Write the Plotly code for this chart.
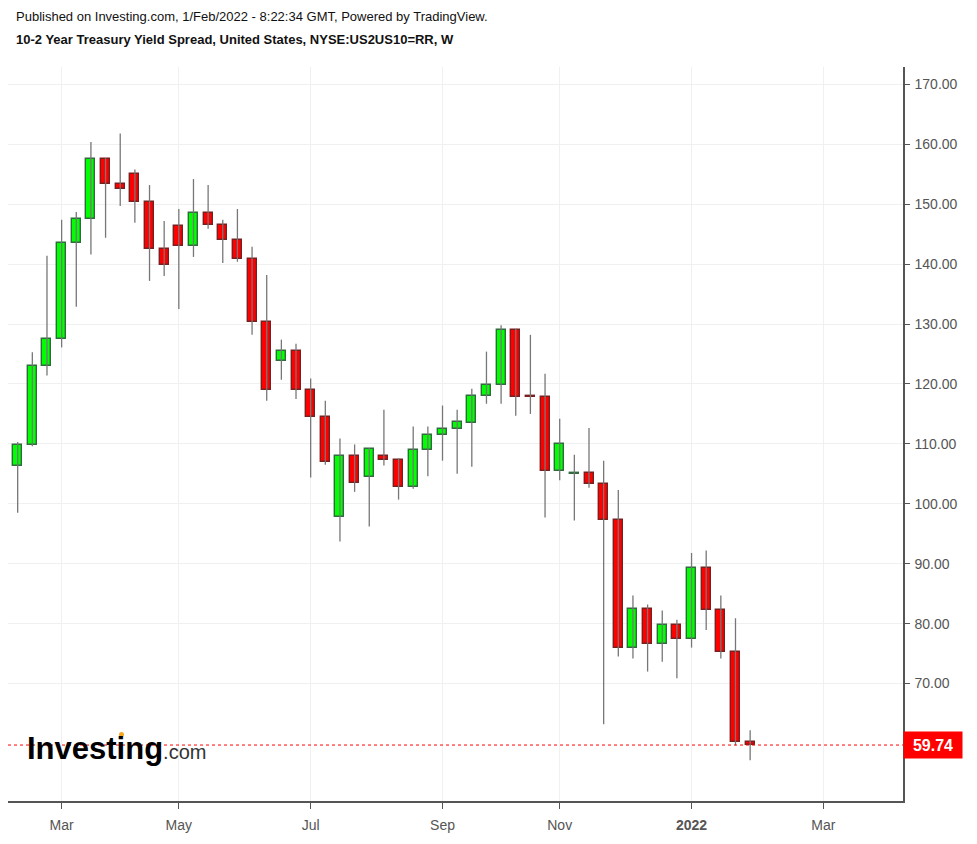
import plotly.graph_objects as go
import pandas as pd

# ---- data (weekly bars, week start dates) ----
dates = pd.date_range("2021-02-15", periods=51, freq="7D").strftime("%Y-%m-%d").tolist()
opens = [106.3, 109.8, 123.05, 127.5, 143.5, 147.5, 157.55, 153.3, 155.05, 150.3,
         142.55, 146.3, 143.0, 148.55, 146.55, 144.05, 140.8, 130.3, 123.8, 125.55,
         119.0, 114.55, 97.8, 108.05, 104.55, 108.05, 107.33, 102.8, 109.05, 111.55,
         112.5, 113.5, 118.0, 119.8, 129.05, 117.85, 117.8, 105.5, 104.9, 105.1,
         103.3, 97.3, 76.0, 82.5, 76.55, 79.85, 77.5, 89.3, 82.3, 75.3,
         60.28]
highs = [110.3, 125.3, 141.4, 147.4, 148.7, 160.4, 157.7, 161.8, 155.8, 153.2,
         147.2, 149.2, 154.2, 153.2, 147.4, 149.2, 142.9, 138.2, 127.4, 126.7,
         120.9, 117.2, 110.9, 109.9, 109.3, 115.7, 107.6, 112.9, 112.9, 116.4,
         115.7, 119.2, 125.4, 129.8, 129.2, 128.2, 121.7, 114.2, 108.2, 112.65,
         107.2, 102.3, 84.7, 83.2, 82.2, 80.65, 91.8, 92.2, 84.7, 80.9,
         62.2]
lows = [98.5, 109.6, 121.4, 126.1, 132.9, 141.6, 144.4, 149.7, 146.9, 137.2,
        138.0, 132.5, 141.2, 145.9, 140.2, 140.4, 128.2, 117.2, 120.7, 117.5,
        104.4, 106.5, 93.7, 102.0, 96.2, 106.4, 100.7, 102.5, 104.6, 107.2,
        105.0, 106.2, 116.7, 116.7, 114.7, 115.0, 97.7, 103.95, 97.2, 102.7,
        63.2, 74.5, 74.2, 72.0, 73.65, 70.9, 76.0, 78.95, 74.2, 59.7,
        57.2]
closes = [109.8, 123.05, 127.5, 143.55, 147.55, 157.55, 153.3, 152.5, 150.3, 142.5,
          139.8, 143.0, 148.55, 146.5, 144.05, 140.8, 130.3, 119.0, 125.55, 119.0,
          114.5, 107.05, 108.05, 103.5, 109.1, 107.3, 102.8, 109.05, 111.55, 112.55,
          113.6, 118.0, 119.8, 129.05, 117.8, 117.75, 105.5, 110.05, 105.0, 103.3,
          97.3, 76.0, 82.5, 76.55, 79.85, 77.5, 89.3, 82.2, 75.3, 60.3,
          59.74]

last_price = 59.74
x_tick_vals = ["2021-03-08", "2021-05-03", "2021-07-05", "2021-09-06", "2021-11-01", "2022-01-03", "2022-03-07"]
x_tick_text = ["Mar", "May", "Jul", "Sep", "Nov", "<b>2022</b>", "Mar"]
y_tick_vals = [70, 80, 90, 100, 110, 120, 130, 140, 150, 160, 170]

GREEN, GREEN_EDGE = "#00ff00", "#2f6b3c"
RED, RED_EDGE = "#ff0000", "#7a1f1f"
FONT = "Arial, 'Liberation Sans', sans-serif"

# page body has an 8px margin, so the figure is 8px smaller each way
W, H = 969, 836
L, R, T, B = 0, 74, 59, 43
PW, PH = W - L - R, H - T - B


def px(xp):   # page x pixel -> paper
    return (xp - 8 - L) / PW


def py(yp):   # page y pixel -> paper
    return (H - B - (yp - 8)) / PH


# wicks
wx, wy = [], []
for d, h, l in zip(dates, highs, lows):
    wx += [d, d, None]
    wy += [l, h, None]

up = [c >= o for o, c in zip(opens, closes)]
base = [min(o, c) for o, c in zip(opens, closes)]
height = [max(abs(c - o), 0.3) for o, c in zip(opens, closes)]

fig = go.Figure()
fig.add_trace(go.Scatter(x=wx, y=wy, mode="lines",
                         line=dict(color="#777777", width=1.3),
                         hoverinfo="skip", showlegend=False))
fig.add_trace(go.Bar(x=dates, y=height, base=base,
                     width=4.3 * 86400000,
                     marker=dict(color=[GREEN if u else RED for u in up],
                                 line=dict(color=[GREEN_EDGE if u else RED_EDGE for u in up], width=1.4)),
                     showlegend=False))

# last price dotted line
fig.add_shape(type="line", xref="paper", x0=0, x1=1, yref="y", y0=last_price, y1=last_price,
              line=dict(color="#ff0000", width=1, dash="dot"))

fig.update_layout(
    width=W, height=H,
    margin=dict(l=L, r=R, t=T, b=B),
    paper_bgcolor="white", plot_bgcolor="white",
    font=dict(family=FONT, color="#555555", size=13),
    bargap=0,
    xaxis=dict(type="date",
               range=["2021-02-10 09:00", "2022-04-14 01:00"],
               tickvals=x_tick_vals, ticktext=x_tick_text,
               showgrid=True, gridcolor="#f0f0f0", gridwidth=1,
               showline=True, linecolor="#555555", linewidth=1.5,
               ticks="outside", ticklen=6, tickcolor="#555555",
               ticklabelstandoff=4,
               tickfont=dict(size=14, color="#555555"),
               zeroline=False, fixedrange=True),
    yaxis=dict(side="right", range=[50.4, 172.9],
               tickvals=y_tick_vals, tickformat=".2f",
               showgrid=True, gridcolor="#f0f0f0", gridwidth=1,
               showline=True, linecolor="#555555", linewidth=1.5,
               ticks="outside", ticklen=5, tickcolor="#555555",
               ticklabelstandoff=2,
               tickfont=dict(size=14, color="#555555"),
               zeroline=False, fixedrange=True),
)

# header text
fig.add_annotation(text="Published on Investing.com, 1/Feb/2022 - 8:22:34 GMT, Powered by TradingView.",
                   xref="paper", yref="paper", x=px(14), y=py(17),
                   xanchor="left", yanchor="middle", showarrow=False,
                   font=dict(size=13, color="#111111", family=FONT))
fig.add_annotation(text="<b>10-2 Year Treasury Yield Spread, United States, NYSE:US2US10=RR, W</b>",
                   xref="paper", yref="paper", x=px(14), y=py(40),
                   xanchor="left", yanchor="middle", showarrow=False,
                   font=dict(size=13, color="#111111", family=FONT))

# price label
fig.add_annotation(text=f"<b>{last_price:.2f}</b>", xref="paper", yref="y",
                   x=1, y=last_price, xanchor="left", yanchor="middle",
                   showarrow=False, bgcolor="#ff0000", width=56, height=24,
                   font=dict(size=16, color="white", family=FONT))

# watermark logo
fig.add_annotation(text="<b>Investing</b><span style='font-size:20px;color:#333333'>.com</span>",
                   xref="paper", yref="paper", x=px(25), y=py(748),
                   xanchor="left", yanchor="middle", showarrow=False,
                   font=dict(size=31, color="#000000", family=FONT))
fig.add_shape(type="circle", xref="paper", yref="paper",
              x0=px(119), x1=px(124), y0=py(737), y1=py(732),
              fillcolor="#f5a623", line=dict(width=0))

fig.write_html("out.html")
